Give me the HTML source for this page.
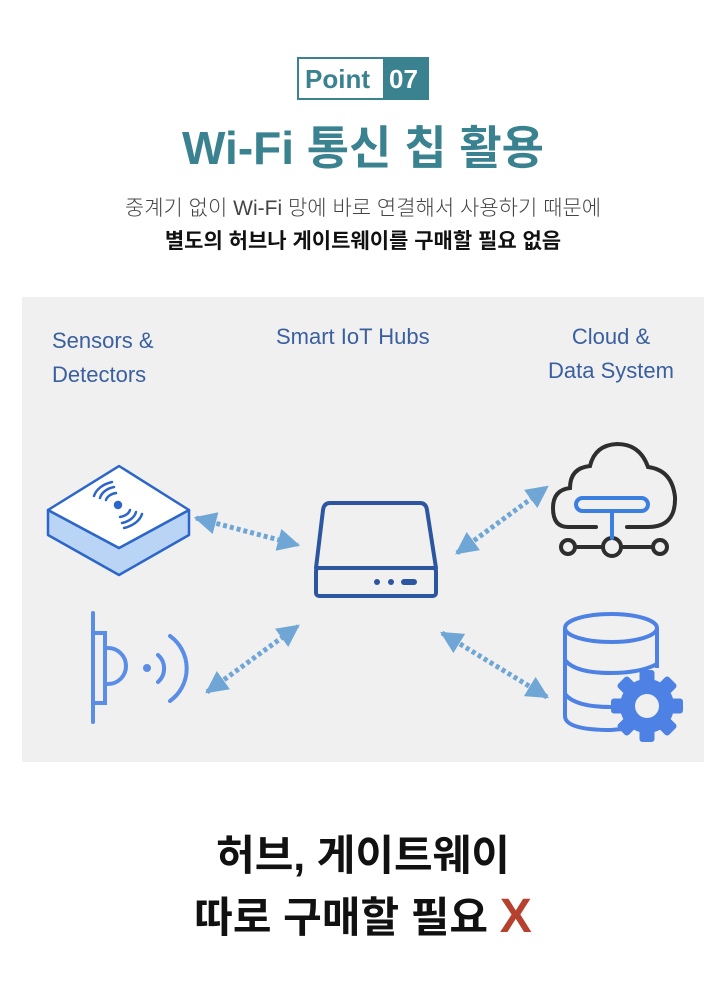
<!DOCTYPE html>
<html><head><meta charset="utf-8"><style>
body{margin:0;width:726px;height:1000px;background:#fff;position:relative;font-family:"Liberation Sans","Noto Sans CJK KR",sans-serif;overflow:hidden}
.abs{position:absolute}
.c{left:0;width:726px;text-align:center}
</style></head><body>
<div class="abs" style="left:297px;top:57px;width:132px;height:43px;border:2px solid #3a8290;box-sizing:border-box;background:#fff"></div>
<div class="abs" style="left:383px;top:57px;width:46px;height:43px;background:#3a8290"></div>
<div class="abs" style="left:305px;top:60px;font-size:26px;font-weight:bold;color:#3a8290;line-height:38px">Point</div>
<div class="abs" style="left:389px;top:60px;font-size:26px;font-weight:bold;color:#fff;line-height:38px">07</div>
<div class="abs c" style="top:118px;font-size:46px;font-weight:bold;color:#3a8290;line-height:60px">Wi-Fi 통신 칩 활용</div>
<div class="abs c" style="top:194px;font-size:21px;color:#444;font-weight:300;line-height:30px">중계기 없이 Wi-Fi 망에 바로 연결해서 사용하기 때문에</div>
<div class="abs c" style="top:227px;font-size:21px;font-weight:bold;color:#111;line-height:30px">별도의 허브나 게이트웨이를 구매할 필요 없음</div>
<div class="abs" style="left:22px;top:297px;width:682px;height:465px;background:#f0f0f0"></div>
<div class="abs" style="left:52px;top:324px;font-size:22px;color:#3a5f9e;line-height:34px;font-weight:500">Sensors &amp;<br>Detectors</div>
<div class="abs" style="left:276px;top:320px;font-size:22px;color:#3a5f9e;line-height:34px">Smart IoT Hubs</div>
<div class="abs" style="left:536px;top:320px;width:150px;text-align:center;font-size:22px;color:#3a5f9e;line-height:34px">Cloud &amp;<br>Data System</div>
<svg class="abs" style="left:0;top:0" width="726" height="1000">
<defs><marker id="a" viewBox="0 0 10 10" refX="9" refY="5" markerWidth="4.5" markerHeight="4.5" orient="auto-start-reverse" markerUnits="strokeWidth"><path d="M0,0L10,5L0,10z" fill="#6fa6d6"/></marker></defs>
<g stroke="#6fa6d6" stroke-width="5" stroke-dasharray="4 3" marker-start="url(#a)" marker-end="url(#a)" fill="none">
<line x1="196" y1="518" x2="298" y2="545"/>
<line x1="207" y1="692" x2="298" y2="626"/>
<line x1="457" y1="553" x2="547" y2="487"/>
<line x1="442" y1="633" x2="547" y2="697"/>
</g>
<g stroke="#2c66c8" stroke-width="2.5" stroke-linejoin="round">
<path d="M48,510L48,535L119,575L189,535L189,510L119,548z" fill="#b9d4f5"/>
<path d="M119,466L48,510L119,548L189,510z" fill="#fff"/>
</g>
<g fill="none" stroke="#2c66c8" stroke-width="2.5" stroke-linecap="round">
<circle cx="118" cy="505" r="3" fill="#2c66c8"/>
<path d="M106,500a13,9 0 0 1 10,-7"/><path d="M100,498a20,14 0 0 1 14,-11"/><path d="M94,496a27,19 0 0 1 18,-14"/>
<path d="M130,510a13,9 0 0 1 -10,7"/><path d="M136,512a20,14 0 0 1 -14,11"/><path d="M142,514a27,19 0 0 1 -18,14"/>
</g>
<g fill="none" stroke="#2c56a0" stroke-width="4" stroke-linejoin="round" stroke-linecap="round">
<path d="M330,503L420,503Q426,503 427,510L436,568L316,568L323,510Q324,503 330,503z"/>
<rect x="316" y="568" width="120" height="28" rx="3"/>
</g>
<g fill="#2c56a0"><circle cx="377" cy="582" r="3"/><circle cx="391" cy="582" r="3"/><rect x="401" y="579" width="16" height="6" rx="3"/></g>
<g fill="none" stroke="#5a8de6" stroke-width="4" stroke-linecap="round">
<line x1="93" y1="613" x2="93" y2="722"/>
<path d="M93,633L105,633L105,703L93,703"/>
<path d="M108,648a18,18 0 0 1 0,36"/>
<path d="M158,655a18,18 0 0 1 0,27"/>
<path d="M170,636a40,40 0 0 1 0,65"/>
</g>
<circle cx="147" cy="668" r="4" fill="#5a8de6"/>
<g fill="none" stroke="#2e2e2e" stroke-width="4" stroke-linecap="round">
<path d="M596,527L568,527Q553,527 553,508Q553,490 570,488Q570,468 590,466Q595,445 617,444Q640,444 648,467Q672,470 675,497Q676,527 648,527L627,527"/>
<circle cx="568" cy="547" r="7"/><circle cx="612" cy="547" r="9"/><circle cx="660" cy="547" r="7"/>
<line x1="575" y1="547" x2="603" y2="547"/><line x1="621" y1="547" x2="653" y2="547"/>
</g>
<g fill="none" stroke="#3b7fe0" stroke-width="4" stroke-linecap="round">
<rect x="576" y="498" width="72" height="13" rx="6.5"/><line x1="612" y1="511" x2="612" y2="538"/>
</g>
<g fill="none" stroke="#4d82e4" stroke-width="4">
<ellipse cx="611" cy="628" rx="46" ry="14"/>
<path d="M565,628L565,716Q565,730 611,730L622,729"/>
<path d="M657,628L657,668"/>
<path d="M565,660Q575,673 611,673Q640,673 657,664"/>
<path d="M565,694Q575,707 611,707"/>
</g>
<circle cx="647" cy="706" r="34" fill="#f0f0f0"/>
<g fill="#4d82e4">
<circle cx="647" cy="706" r="27"/>
<g transform="translate(647,706)">
<rect x="-7.5" y="-36" width="15" height="72" rx="3"/><rect x="-7.5" y="-36" width="15" height="72" rx="3" transform="rotate(45)"/><rect x="-7.5" y="-36" width="15" height="72" rx="3" transform="rotate(90)"/><rect x="-7.5" y="-36" width="15" height="72" rx="3" transform="rotate(135)"/>
</g>
</g>
<circle cx="647" cy="706" r="12" fill="#f0f0f0"/>
</svg>
<div class="abs c" style="top:826px;font-size:42px;font-weight:bold;color:#111;line-height:60px">허브, 게이트웨이</div>
<div class="abs c" style="top:887px;font-size:42px;font-weight:bold;color:#111;line-height:60px">따로 구매할 필요 <span style="color:#b5412e;font-size:48px">X</span></div>
</body></html>
